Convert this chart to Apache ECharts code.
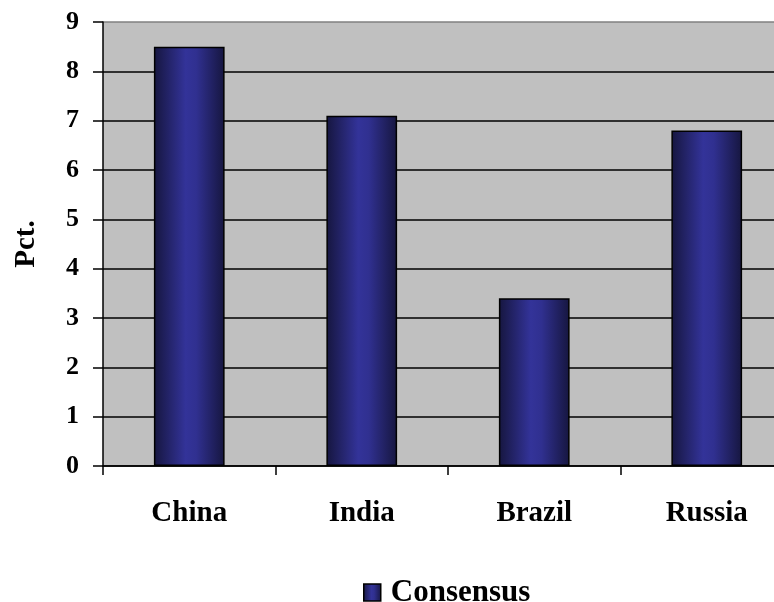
<!DOCTYPE html>
<html><head><meta charset="utf-8">
<script src="https://cdn.jsdelivr.net/npm/echarts@6/dist/echarts.min.js"></script>
<style>html,body{margin:0;padding:0;background:#fff;overflow:hidden;width:774px;height:602px}#c{width:793px;height:602px}</style>
</head><body><div id="c"></div>
<script>
const categories = ['China', 'India', 'Brazil', 'Russia'];
const consensus = [8.5, 7.1, 3.4, 6.8];
const seriesName = 'Consensus';
const yTicks = [0, 1, 2, 3, 4, 5, 6, 7, 8, 9];

const FONT = '"Liberation Serif", "DejaVu Serif", serif';
const barGrad = new echarts.graphic.LinearGradient(0, 0, 1, 0, [
  {offset: 0, color: '#16163f'},
  {offset: 0.45, color: '#333399'},
  {offset: 0.6, color: '#303090'},
  {offset: 1, color: '#16163f'}
]);
const chart = echarts.init(document.getElementById('c'), null, {renderer: 'canvas'});
chart.setOption({
  animation: false,
  backgroundColor: '#ffffff',
  textStyle: {fontFamily: FONT},
  grid: {left: 103, right: 0, top: 22, bottom: 136, show: true, backgroundColor: '#c0c0c0', borderWidth: 0},
  legend: {
    data: [seriesName], left: 358, top: 572, icon: 'rect', itemWidth: 17, itemHeight: 17, itemGap: 4,
    itemStyle: {borderColor: '#000', borderWidth: 1.5},
    textStyle: {fontFamily: FONT, fontWeight: 'bold', fontSize: 31, color: '#000', padding: [0, 0, 0, 5]}
  },
  xAxis: {
    type: 'category', data: categories,
    axisLine: {lineStyle: {color: '#000', width: 1.5}},
    axisTick: {show: true, length: 9, lineStyle: {color: '#000', width: 1.5}},
    axisLabel: {color: '#000', fontFamily: FONT, fontWeight: 'bold', fontSize: 29, margin: 33},
    splitLine: {show: false}
  },
  yAxis: {
    type: 'value', min: yTicks[0], max: yTicks[yTicks.length - 1], interval: 1,
    name: 'Pct.', nameLocation: 'middle', nameGap: 62, nameRotate: 90,
    nameTextStyle: {color: '#000', fontFamily: FONT, fontWeight: 'bold', fontSize: 29},
    axisLine: {show: true, lineStyle: {color: '#000', width: 1.5}},
    axisTick: {show: true, length: 10, lineStyle: {color: '#000', width: 1.5}},
    axisLabel: {color: '#000', fontFamily: FONT, fontWeight: 'bold', fontSize: 26, margin: 24},
    splitLine: {show: true, lineStyle: {color: ['#000','#000','#000','#000','#000','#000','#000','#000','#000','#808080'], width: 1.5}}
  },
  series: [{
    name: seriesName, type: 'bar', data: consensus, barWidth: '41%',
    itemStyle: {color: barGrad, borderColor: '#000', borderWidth: 1.5}
  }]
});
</script></body></html>
